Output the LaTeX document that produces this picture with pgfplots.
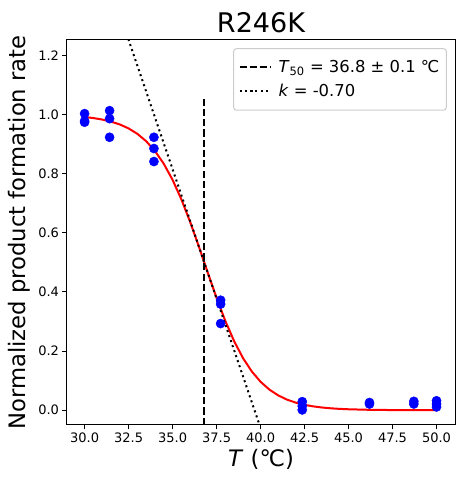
\documentclass[border=0pt]{standalone}
\usepackage{fontspec}
\setmainfont{DejaVu Sans}
\usepackage{pgfplots}
\pgfplotsset{compat=1.18}
\definecolor{mblue}{RGB}{0,0,255}
\definecolor{mred}{RGB}{255,0,0}
\definecolor{lgray}{RGB}{204,204,204}
\begin{document}
\begin{tikzpicture}
\path[use as bounding box] (-67pt,-62pt) rectangle (397pt,425pt);
\begin{axis}[
  at={(0pt,0pt)}, anchor=south west,
  scale only axis, width=388pt, height=385pt,
  xmin=29, xmax=51.05, ymin=-0.05, ymax=1.252,
  xtick={30,32.5,...,50}, ytick={0,0.2,...,1.2},
  xticklabel style={/pgf/number format/.cd, fixed, fixed zerofill, precision=1},
  yticklabel style={/pgf/number format/.cd, fixed, fixed zerofill, precision=1},
  /pgf/number format/assume math mode=true,
  tick label style={font=\fontsize{13}{15}\selectfont},
  tick align=outside, major tick length=4.5pt,
  xtick pos=bottom, ytick pos=left,
  axis line style={line width=1pt},
  every tick/.style={black, line width=1pt},
  title={R246K},
  title style={font=\fontsize{27}{30}\selectfont, yshift=-2pt},
  xlabel={\textit{T} (℃)},
  ylabel={Normalized product formation rate},
  ylabel shift=1pt,
  label style={font=\fontsize{22.7}{26}\selectfont},
  legend style={at={(0.979,0.979)}, anchor=north east, draw=lgray, line width=1pt, rounded corners=3pt,
    font=\fontsize{16.4}{19}\selectfont, row sep=6pt, inner xsep=5pt, inner ysep=10pt},
  legend cell align=left,
  legend image code/.code={\draw[#1] plot coordinates {(0pt,0pt) (15.5pt,0pt) (31pt,0pt)};},
]
\addplot[only marks, mark=*, mark size=4.6pt, mblue, forget plot] coordinates {
 (30.0,1.003) (30.0,0.978) (30.0,0.974)
 (31.42,1.013) (31.42,0.986) (31.42,0.923)
 (33.94,0.923) (33.94,0.885) (33.94,0.841)
 (37.73,0.372) (37.73,0.359) (37.73,0.293)
 (42.37,0.029) (42.37,0.014) (42.37,0.001)
 (46.19,0.021) (46.19,0.026)
 (48.71,0.021) (48.71,0.030)
 (50.0,0.032) (50.0,0.011) (50.0,0.021)
};
\addplot[mred, line width=2pt, forget plot] coordinates {
 (30,0.9915) (30.5,0.9880) (31,0.9830) (31.5,0.9761) (32,0.9664) (32.5,0.9530)
 (33,0.9346) (33.5,0.9097) (34,0.8765) (34.5,0.8334) (35,0.7790) (35.5,0.7130)
 (36,0.6365) (36.5,0.5523) (37,0.4650) (37.5,0.3799) (38,0.3015) (38.5,0.2333)
 (39,0.1765) (39.5,0.1312) (40,0.0962) (40.5,0.0698) (41,0.0502) (41.5,0.0359)
 (42,0.0256) (42.5,0.0182) (43,0.0129) (43.5,0.0091) (44,0.0064) (44.5,0.0045)
 (45,0.0032) (46,0.0016) (47,0.0008) (48,0.0004) (49,0.0002) (50,0.0001)
};
\addplot[black, line width=2pt, dash pattern=on 7.2pt off 3.1pt] coordinates {(36.8,-0.05) (36.8,1.051)};
\addlegendentry{\hspace*{5pt}\textit{T}\textsubscript{50} = 36.8 ± 0.1 ℃}
\addplot[black, line width=2pt, dash pattern=on 2pt off 3.3pt] coordinates {(32.0,1.34) (41.0,-0.235)};
\addlegendentry{\hspace*{5pt}\textit{k} = -0.70}
\end{axis}
\end{tikzpicture}
\end{document}
